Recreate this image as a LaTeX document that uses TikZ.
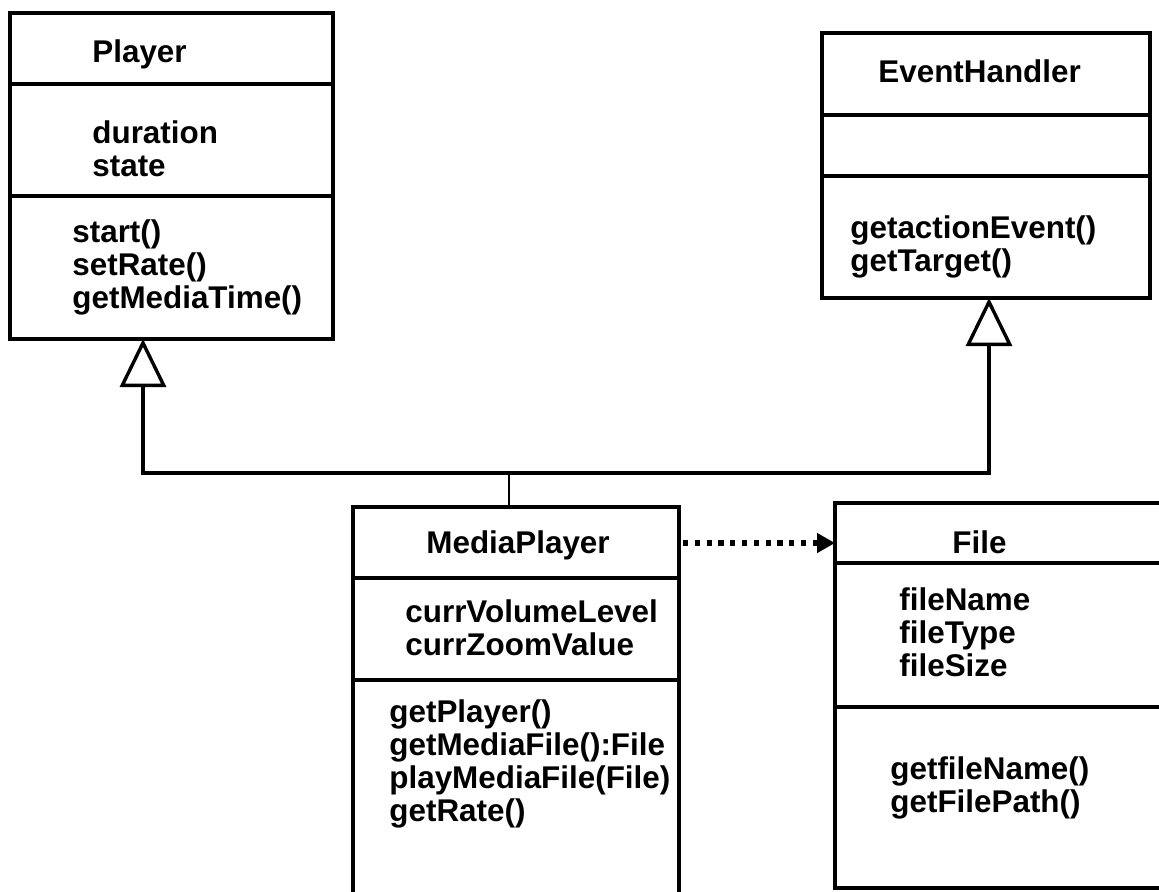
\documentclass[tikz,border=0pt]{standalone}
\usepackage{fontspec}
\setmainfont{Liberation Sans}
\usetikzlibrary{arrows.meta,fit}
\begin{document}
\begin{tikzpicture}[x=0.5pt,y=-0.5pt,
  classbox/.style={draw, line width=1.6pt, inner sep=0pt, outer sep=0pt},
  part/.style={line width=1.6pt},
  member/.style={inner sep=0pt, anchor=base west, align=left,
    font=\fontsize{15.7}{16.5}\selectfont\bfseries},
  gen/.style={line width=1.7pt,
    {Triangle[open,length=24pt,width=23pt]}-{Triangle[open,length=24pt,width=23pt]}},
  link/.style={line width=0.85pt},
  dep/.style={line width=2.7pt, dash pattern=on 2.6pt off 3.3pt,
    -{Triangle[length=9pt,width=9.5pt]}}]
\useasboundingbox (0,0) rectangle (1159,891);
\clip (0,0) rectangle (1159,891);
% class boxes
\node[classbox, fit={(10,13) (333,339)}] (player) {};
\draw[part] (10,84) -- (333,84);
\draw[part] (10,196) -- (333,196);
\node[classbox, fit={(822,33) (1150,298)}] (handler) {};
\draw[part] (822,115) -- (1150,115);
\draw[part] (822,176) -- (1150,176);
\node[classbox, fit={(353,507) (679,915)}] (mediaplayer) {};
\draw[part] (353,578) -- (679,578);
\draw[part] (353,680) -- (679,680);
\node[classbox, fit={(835,503) (1180,888)}] (file) {};
\draw[part] (835,563) -- (1180,563);
\draw[part] (835,707) -- (1180,707);
% texts (base = last line)
\node[member] (player name) at (92,62) {Player};
\node[member] (player attr) at (92,176) {duration\\state};
\node[member] (player op) at (72,308) {start()\\setRate()\\getMediaTime()};
\node[member] (handler name) at (878,82) {EventHandler};
\node[member] (handler op) at (850,271) {getactionEvent()\\getTarget()};
\node[member] (mp name) at (426,553) {MediaPlayer};
\node[member] (mp attr) at (405,655) {currVolumeLevel\\currZoomValue};
\node[member] (mp op) at (389,821) {getPlayer()\\getMediaFile():File\\playMediaFile(File)\\getRate()};
\node[member] (file name) at (952,553) {File};
\node[member] (file attr) at (899,676) {fileName\\fileType\\fileSize};
\node[member] (file op) at (890,812) {getfileName()\\getFilePath()};
% connectors
\coordinate (joint) at (509,473);
\coordinate (ptip) at (143,339);
\coordinate (etip) at (989,298);
\draw[gen] (ptip) |- (joint) -| (etip);
\draw[link] (joint) -- (joint |- mediaplayer.north);
\coordinate (depstart) at (683,543);
\draw[dep] (depstart) -- (depstart -| file.west);
\end{tikzpicture}
\end{document}
